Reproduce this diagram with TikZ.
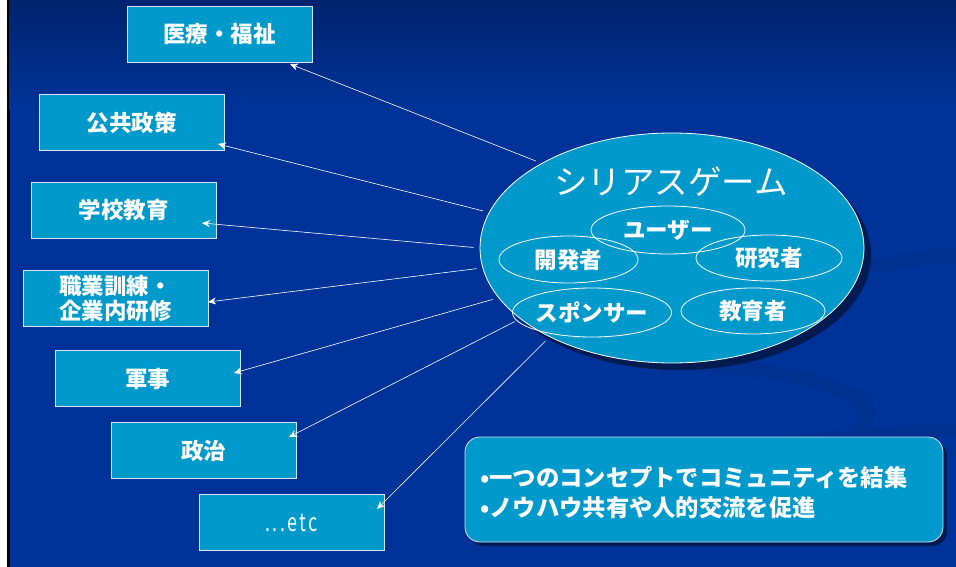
\documentclass[tikz,border=0pt]{standalone}
\usepackage{fontspec}
\newfontfamily\jp{Noto Sans CJK JP}
\usetikzlibrary{shapes.geometric,arrows.meta}
\definecolor{bgtop}{HTML}{00246E}
\definecolor{bgmain}{HTML}{003399}
\definecolor{swoosh}{HTML}{003090}
\definecolor{boxfill}{HTML}{0099CC}
\definecolor{shadowc}{HTML}{001A52}
\definecolor{boxline}{HTML}{D8E4F0}
\tikzset{
  areabox/.style={draw=boxline, line width=0.8pt, fill=boxfill, minimum width=185pt, minimum height=56pt, inner sep=0pt, text=white, font=\jp\bfseries\fontsize{22.5}{25}\selectfont},
  roleell/.style={ellipse, draw=white, line width=0.8pt, inner sep=0pt, text=white, font=\jp\bfseries\fontsize{22.5}{25}\selectfont},
  link/.style={draw=white, line width=0.6pt, -{Stealth[length=8pt,width=7pt]}, shorten <=6pt}
}
\begin{document}
\begin{tikzpicture}[x=1pt,y=-1pt]
\useasboundingbox (0,0) rectangle (956,567);
% background
\fill[white] (0,0) rectangle (7,567);
\fill[black] (7,0) rectangle (9.5,567);
\fill[bgmain] (9.5,0) rectangle (956,567);
\shade[top color=bgtop, bottom color=bgmain] (9.5,0) rectangle (956,110);
% faint swooshes
\fill[swoosh] (860,262) .. controls (900,255) and (930,250) .. (956,247) -- (956,262) .. controls (930,264) and (900,268) .. (860,275) -- cycle;
\fill[swoosh] (700,360) .. controls (880,365) and (920,425) .. (830,440) .. controls (890,420) and (860,380) .. (700,372) -- cycle;
\fill[swoosh] (780,437) .. controls (860,428) and (920,425) .. (956,424) -- (956,436) .. controls (920,437) and (860,440) .. (800,446) -- cycle;

% category boxes
\node[areabox] (med) at (219.5,34) {医療・福祉};
\node[areabox] (pub) at (131.5,122.5) {公共政策};
\node[areabox] (sch) at (123.5,210) {学校教育};
\node[areabox, align=left] (voc) at (115.5,298.5) {職業訓練・\\企業内研修};
\node[areabox] (mil) at (147.5,378.5) {軍事};
\node[areabox] (pol) at (203.5,450.5) {政治};
\node[areabox, font=\jp\fontsize{25}{28}\selectfont] (etc) at (291.5,522.5) {\scalebox{0.72}[1]{\addfontfeatures{LetterSpace=14}...etc}};

% big ellipse with shadow
\fill[shadowc] (679,255) ellipse [x radius=192, y radius=115];
\node[ellipse, draw=white, line width=0.8pt, fill=boxfill, minimum width=384pt, minimum height=230pt, inner sep=0pt] (sg) at (672,248) {};
\node[text=white, font=\jp\fontsize{33.5}{38}\selectfont, inner sep=0pt] (title) at (671,182) {シリアスゲーム};

% role ellipses
\node[roleell, minimum width=154pt, minimum height=48pt] (usr) at (668,230) {ユーザー};
\node[roleell, minimum width=139pt, minimum height=47pt] (dev) at (568.5,259.5) {開発者};
\node[roleell, minimum width=146pt, minimum height=46pt] (res) at (769,258) {研究者};
\node[roleell, minimum width=156pt, minimum height=49pt] (spo) at (592,312.5) {スポンサー};
\node[roleell, minimum width=144pt, minimum height=46pt] (edu) at (753,311) {教育者};

% arrow end points
\coordinate (e1) at (290,64);
\coordinate (e2) at (218,144);
\coordinate (e3) at (202,223);
\coordinate (e4) at (208,302);
\coordinate (e5) at (234,373);
\coordinate (e6) at (289,437);
\coordinate (e7) at (377,509);

\draw[link] (sg.147.3) -- (e1);
\draw[link] (sg.169.2) -- (e2);
\draw[link] (sg.180) -- (e3);
\draw[link] (sg.186.8) -- (e4);
\draw[link] (sg.196.1) -- (e5);
\draw[link] (sg.205.6) -- (e6);
\draw[link] (sg.216.6) -- (e7);

% summary box
\fill[shadowc, rounded corners=15pt] (469,441) rectangle (947,546);
\node[draw=boxline, line width=0.8pt, fill=boxfill, rounded corners=15pt, minimum width=478pt, minimum height=105pt, inner sep=0pt] (sum) at (704,489.5) {};
\node[anchor=west, align=left, text=white, inner sep=0pt, font=\jp\bfseries\fontsize{23.3}{30}\selectfont] (sumtext) at (480,493) {•一つのコンセプトでコミュニティを結集\\•ノウハウ共有や人的交流を促進};
\end{tikzpicture}
\end{document}
